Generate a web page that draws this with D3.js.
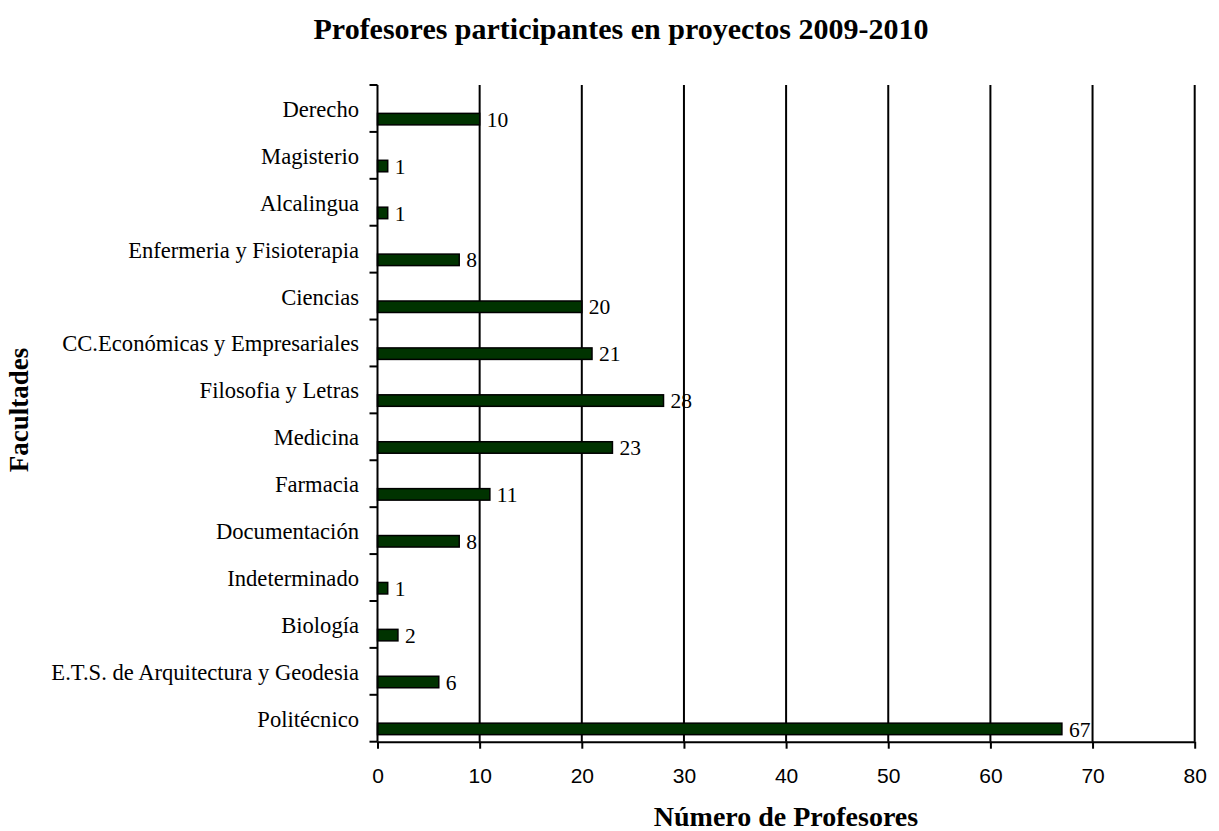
<!DOCTYPE html>
<html>
<head>
<meta charset="utf-8">
<script src="https://cdn.jsdelivr.net/npm/d3@7"></script>
<style>
  html, body { margin: 0; padding: 0; background: #fff; }
  svg { display: block; }
</style>
</head>
<body>
<svg id="chart" width="1219" height="831"></svg>
<script>
// Facultades, listed top to bottom
const categories = [
  "Derecho", "Magisterio", "Alcalingua", "Enfermeria y Fisioterapia", "Ciencias",
  "CC.Económicas y Empresariales", "Filosofia y Letras", "Medicina", "Farmacia",
  "Documentación", "Indeterminado", "Biología", "E.T.S. de Arquitectura y Geodesia",
  "Politécnico"
];
const values = [10, 1, 1, 8, 20, 21, 28, 23, 11, 8, 1, 2, 6, 67];
const xTicks = [0, 10, 20, 30, 40, 50, 60, 70, 80];

const title = "Profesores participantes en proyectos 2009-2010";
const xTitle = "Número de Profesores";
const yTitle = "Facultades";

const svg = d3.select("#chart");
const plotLeft = 377.5, plotRight = 1194.7, plotTop = 85, plotBottom = 741.7;

const x = d3.scaleLinear().domain([0, 80]).range([plotLeft, plotRight]);
const y = d3.scaleBand().domain(categories).range([plotTop, plotBottom]);
const bw = y.bandwidth();

const serif = "'Liberation Serif', 'Times New Roman', serif";
const sans = "'Liberation Sans', Arial, sans-serif";

// vertical gridlines
svg.append("g").selectAll("line")
  .data(xTicks.filter(d => d > 0))
  .join("line")
  .attr("x1", d => x(d)).attr("x2", d => x(d))
  .attr("y1", plotTop).attr("y2", plotBottom)
  .attr("stroke", "#000").attr("stroke-width", 2);

// bars
svg.append("g").selectAll("rect")
  .data(values)
  .join("rect")
  .attr("x", x(0))
  .attr("y", (d, i) => y(categories[i]) + bw * 0.605)
  .attr("width", d => x(d) - x(0))
  .attr("height", bw * 0.245)
  .attr("fill", "#003300")
  .attr("stroke", "#000")
  .attr("stroke-width", 1.5);

// value labels
svg.append("g").selectAll("text")
  .data(values)
  .join("text")
  .attr("x", d => x(d) + 7)
  .attr("y", (d, i) => y(categories[i]) + bw * 0.74)
  .attr("dominant-baseline", "central")
  .attr("font-family", serif)
  .attr("font-size", 21.5)
  .attr("fill", "#000")
  .text(d => d);

// x axis
const xAxis = d3.axisBottom(x).tickValues(xTicks).tickSize(7).tickSizeOuter(0);
const gx = svg.append("g").attr("transform", `translate(0,${plotBottom})`).call(xAxis);
gx.select(".domain").attr("stroke", "#000").attr("stroke-width", 2);
gx.selectAll(".tick line").attr("stroke", "#000").attr("stroke-width", 2);
gx.selectAll(".tick text")
  .attr("y", 41).attr("dy", 0)
  .attr("font-family", sans).attr("font-size", 21).attr("fill", "#000");

// y axis: ticks sit at band boundaries, labels at band centres
const g = svg.append("g");
g.append("line").attr("x1", plotLeft).attr("x2", plotLeft).attr("y1", plotTop).attr("y2", plotBottom)
  .attr("stroke", "#000").attr("stroke-width", 2);
const boundaries = categories.map(c => y(c)).concat([plotBottom]);
g.selectAll("line.tk").data(boundaries).join("line").attr("class", "tk")
  .attr("x1", plotLeft - 8).attr("x2", plotLeft).attr("y1", d => d).attr("y2", d => d)
  .attr("stroke", "#000").attr("stroke-width", 2);
g.selectAll("text").data(categories).join("text")
  .attr("x", 359)
  .attr("y", d => y(d) + bw / 2 + 1)
  .attr("text-anchor", "end")
  .attr("dominant-baseline", "central")
  .attr("font-family", serif)
  .attr("font-size", 22.6)
  .attr("fill", "#000")
  .text(d => d);

// titles
svg.append("text").attr("x", 621).attr("y", 39).attr("text-anchor", "middle")
  .attr("font-family", serif).attr("font-size", 30).attr("font-weight", "bold").text(title);
svg.append("text").attr("x", 786).attr("y", 826).attr("text-anchor", "middle")
  .attr("font-family", serif).attr("font-size", 28).attr("font-weight", "bold").text(xTitle);
svg.append("text").attr("transform", "translate(28,410) rotate(-90)").attr("text-anchor", "middle")
  .attr("font-family", serif).attr("font-size", 27).attr("font-weight", "bold").text(yTitle);
</script>
</body>
</html>
